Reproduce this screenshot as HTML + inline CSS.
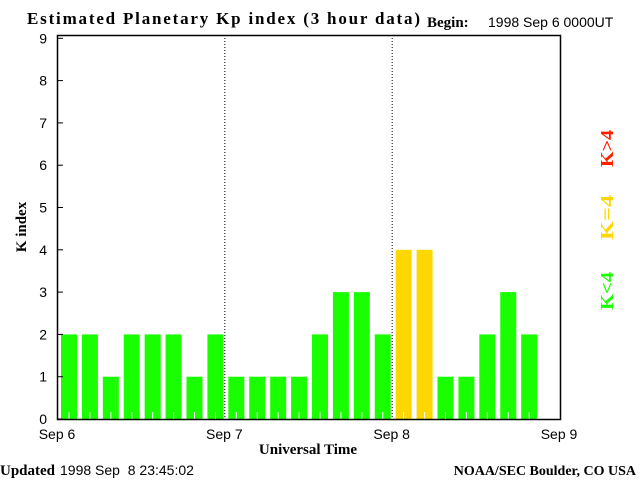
<!DOCTYPE html>
<html><head><meta charset="utf-8"><style>
html,body{margin:0;padding:0;background:#fff;width:640px;height:480px;overflow:hidden}
svg{display:block}
.t{font-family:"Liberation Sans",sans-serif;font-size:14px;fill:#000}
.s{font-family:"Liberation Serif",serif;font-weight:bold;font-size:15px;fill:#000}
</style></head><body>
<svg width="640" height="480">
<text class="s" x="27" y="24" textLength="393" lengthAdjust="spacing" style="font-size:17px">Estimated Planetary Kp index (3 hour data)</text>
<text class="s" x="427" y="27">Begin:</text>
<text class="t" x="488" y="27">1998 Sep 6 0000UT</text>
<g id="bars"></g>
<g id="axes"></g>
<text class="s" x="0" y="0" transform="translate(26,227) rotate(-90)" text-anchor="middle">K index</text>
<text class="s" x="308" y="454" text-anchor="middle">Universal Time</text>
<text x="0" y="475"><tspan class="s">Updated</tspan><tspan class="t" dx="5" style="white-space:pre">1998 Sep  8 23:45:02</tspan></text>
<text class="s" x="636" y="475" text-anchor="end" style="font-size:14px">NOAA/SEC Boulder, CO USA</text>
<text class="s" x="-167" y="613" transform="rotate(-90)" textLength="37" lengthAdjust="spacingAndGlyphs" style="fill:#ff2000;font-size:18px">K&gt;4</text>
<text class="s" x="-240" y="613" transform="rotate(-90)" textLength="45" lengthAdjust="spacingAndGlyphs" style="fill:#ffd700;font-size:18px">K=4</text>
<text class="s" x="-310" y="613" transform="rotate(-90)" textLength="38" lengthAdjust="spacingAndGlyphs" style="fill:#1aff00;font-size:18px">K&lt;4</text>
</svg>
<script>
const kpValues=[2,2,1,2,2,2,1,2, 1,1,1,1,2,3,3,2, 4,4,1,1,2,3,2];
const dayLabels=["Sep 6","Sep 7","Sep 8","Sep 9"];
const yTicks=[0,1,2,3,4,5,6,7,8,9];
const L=57,R=559,T=35,B=419,UNIT=42.3,SLOTS=24;
const NS="http://www.w3.org/2000/svg";
const sx=i=>L+(R-L)*i/SLOTS;
const sy=v=>B-v*UNIT;
function mk(tag,at,parent){const e=document.createElementNS(NS,tag);for(const k in at)e.setAttribute(k,at[k]);parent.appendChild(e);return e;}
const bars=document.getElementById('bars'),axes=document.getElementById('axes');
kpValues.forEach((v,i)=>{
  const c=v>4?'#ff2000':(v===4?'#ffd700':'#1aff00');
  const r=mk('rect',{x:sx(i)+4,y:sy(v),width:16,height:B-sy(v),fill:c},bars);
  
  
  const tk=mk('line',{x1:sx(i)+12,x2:sx(i)+12,y1:B-7,y2:B,stroke:'#fff'},bars);
  
  
});
for(let d=1;d<3;d++){
  const l=mk('line',{x1:sx(d*8)+0.5,x2:sx(d*8)+0.5,y1:T,y2:B,stroke:'#000','stroke-dasharray':'1,2'},axes);
  
  
}
const fr=mk('rect',{x:L+0.5,y:T+0.5,width:R-L+1,height:B-T,fill:'none',stroke:'#000','stroke-width':1.5},axes);


yTicks.forEach(v=>{
  const y=sy(v);
  const tl=mk('line',{x1:L,x2:L+6,y1:y,y2:y,stroke:'#000'},axes);
  
  
  const t=mk('text',{x:47,y:y+5,'text-anchor':'end',class:'t'},axes);
  t.textContent=v;
  
  
});
dayLabels.forEach((s,d)=>{
  const t=mk('text',{x:sx(d*8),y:439,'text-anchor':'middle',class:'t'},axes);
  t.textContent=s;
  
  
});
</script>
</body></html>
